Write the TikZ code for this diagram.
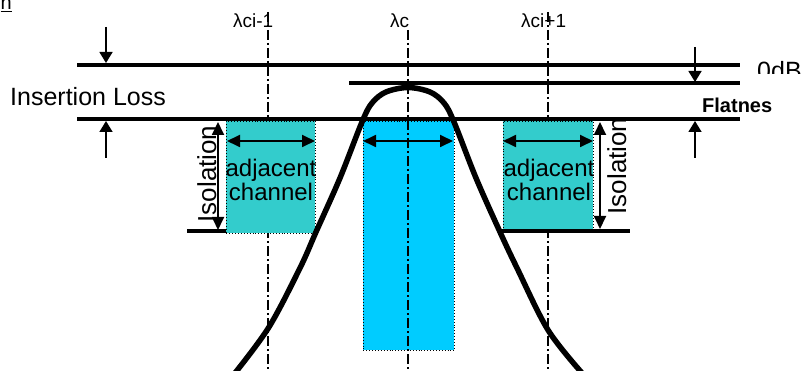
\documentclass[tikz,border=0pt]{standalone}
\usepackage{fontspec}
\setmainfont{Liberation Sans}
\usetikzlibrary{arrows.meta}
\definecolor{teal1}{HTML}{33CCCC}
\definecolor{cyan1}{HTML}{00CCFF}
\begin{document}
\begin{tikzpicture}[x={(1pt,0)},y={(0,-1pt)},
  level/.style={line width=4.5pt},
  dimarrow/.style={line width=1.6pt,-{Triangle[length=11pt,width=13pt]}},
  dbl/.style={line width=1.8pt,{Triangle[length=13pt,width=12pt]}-{Triangle[length=13pt,width=12pt]}},
  chanbox/.style={draw=black,dotted,line width=0.9pt},
  axisline/.style={line width=1.4pt,dash pattern=on 10pt off 3pt on 2pt off 3pt},
  lbl/.style={inner sep=0pt,font=\fontsize{19}{19}\selectfont},
  big/.style={inner sep=0pt,font=\fontsize{25}{25}\selectfont},
  chantext/.style={inner sep=0pt,align=center,font=\fontsize{24}{17}\selectfont},
  isotext/.style={inner sep=0pt,rotate=90,anchor=base,font=\fontsize{26}{26}\selectfont},
]
\useasboundingbox (0,0) rectangle (805,371);

% cut-off title fragment
\node[anchor=base east,inner sep=0pt,font=\fontsize{20}{20}\selectfont] (ttl) at (12,10) {\underline{n}};

% side axis lines (under boxes)
\coordinate (a1t) at (268,12); \coordinate (a1b) at (268,371);
\coordinate (a3t) at (548,12); \coordinate (a3b) at (548,371);
\draw[axisline] (a1t) -- (a1b);
\draw[axisline] (a3t) -- (a3b);

% channel boxes
\node[chanbox,fill=teal1,minimum width=89pt,minimum height=112pt,inner sep=0pt,anchor=north west] (lbox) at (226,121) {};
\node[chanbox,fill=teal1,minimum width=90pt,minimum height=109pt,inner sep=0pt,anchor=north west] (rbox) at (503,121) {};
\node[chanbox,fill=cyan1,minimum width=91pt,minimum height=229pt,inner sep=0pt,anchor=north west] (cbox) at (363,121) {};

% central axis
\coordinate (a2t) at (408,30); \coordinate (a2b) at (408,371);
\draw[axisline] (a2t) -- (a2b);

% filter curve
\draw[line width=5.5pt,line join=round] plot[smooth,tension=0.55] coordinates {
 (235,373) (269,327) (300,268) (316,232) (340,178) (362,122) (372,103)
 (386,92) (408,87.5) (430,92) (444,103) (454,122) (476,178) (500,232)
 (517,268) (548,330) (582,373)};

% level lines
\coordinate (l0a) at (77,65);  \coordinate (l0b) at (740,65);
\coordinate (lpa) at (349,83); \coordinate (lpb) at (740,83);
\coordinate (lia) at (77,119); \coordinate (lib) at (740,119);
\draw[level] (l0a) -- (l0b);
\draw[level] (lpa) -- (lpb);
\draw[level] (lia) -- (lib);
\coordinate (isl1) at (187,231); \coordinate (isl2) at (226,231);
\coordinate (isr1) at (500,231); \coordinate (isr2) at (630,231);
\draw[level] (isl1) -- (isl2);
\draw[level] (isr1) -- (isr2);

% dimension arrows
\coordinate (d1s) at (106,27);  \coordinate (d1e) at (106,63);
\coordinate (d2s) at (106,158); \coordinate (d2e) at (106,121);
\coordinate (d3s) at (695,47);  \coordinate (d3e) at (695,82);
\coordinate (d4s) at (695,158); \coordinate (d4e) at (695,121);
\draw[dimarrow] (d1s) -- (d1e);
\draw[dimarrow] (d2s) -- (d2e);
\draw[dimarrow] (d3s) -- (d3e);
\draw[dimarrow] (d4s) -- (d4e);

% width arrows
\coordinate (w1a) at (227,141); \coordinate (w1b) at (315,141);
\coordinate (w2a) at (503,141); \coordinate (w2b) at (593,141);
\coordinate (w3a) at (363,141); \coordinate (w3b) at (453,141);
\draw[dbl] (w1a) -- (w1b);
\draw[dbl] (w2a) -- (w2b);
\draw[dbl] (w3a) -- (w3b);

% isolation arrows
\coordinate (i1a) at (218,122); \coordinate (i1b) at (218,230);
\coordinate (i2a) at (600,122); \coordinate (i2b) at (600,229);
\draw[dbl] (i1a) -- (i1b);
\draw[dbl] (i2a) -- (i2b);

% texts
\node[big,anchor=base west] (il) at (10,106) {Insertion Loss};
\node[anchor=base west,inner sep=0pt,font=\bfseries\fontsize{20}{20}\selectfont] (flat) at (702,113) {Flatnes};
\begin{scope}
\clip (745,0) rectangle (805,74);
\node[big,anchor=base west] (odb) at (757,80) {0dB};
\end{scope}
\node[lbl,anchor=base west] (lam1) at (233,28) {λci-1};
\node[lbl,anchor=base west] (lam2) at (390,28) {λc};
\node[lbl,anchor=base west] (lam3) at (521,28) {λci+1};
\node[chantext] (ac1) at (271,180) {adjacent\\channel};
\node[chantext] (ac2) at (549,180) {adjacent\\channel};
\node[isotext] (iso1) at (216,174) {Isolation};
\node[isotext] (iso2) at (626,166) {Isolation};
\end{tikzpicture}
\end{document}
